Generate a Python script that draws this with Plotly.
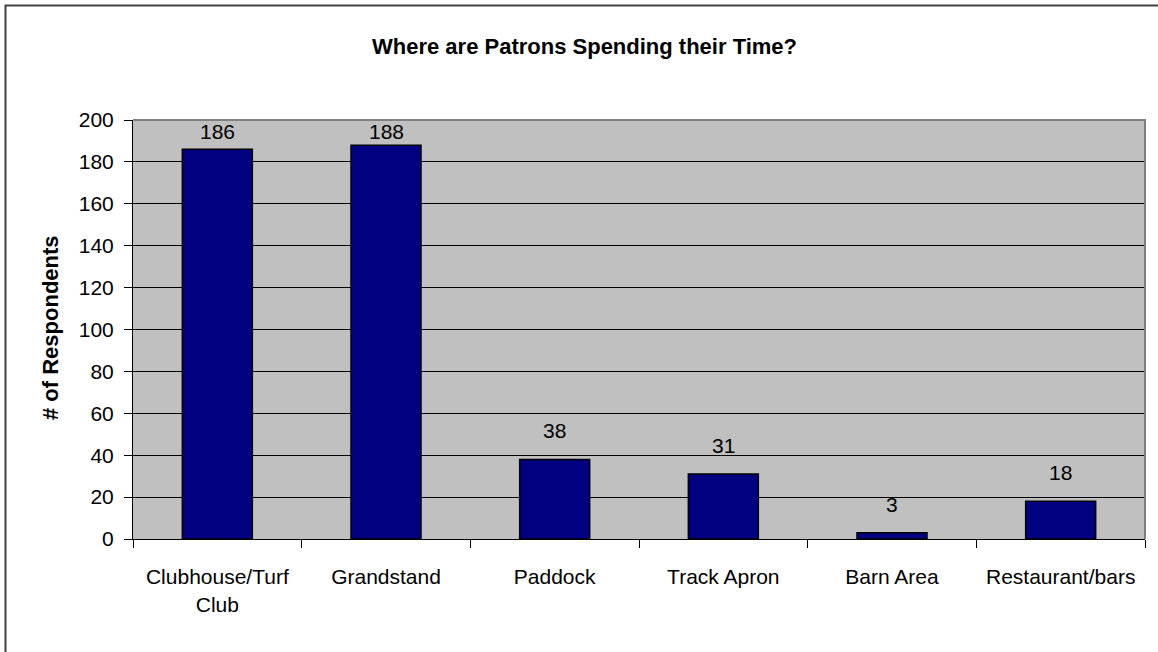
import plotly.graph_objects as go

categories = ["Clubhouse/Turf<br>Club", "Grandstand", "Paddock", "Track Apron", "Barn Area", "Restaurant/bars"]
respondents = [186, 188, 38, 31, 3, 18]
y_ticks = [0, 20, 40, 60, 80, 100, 120, 140, 160, 180, 200]

FONT = "Liberation Sans, Arial"
FS = 21

W, H = 1158, 652
L, R, T, B = 133, 13, 120, 113
pw, ph = W - L - R, H - T - B

fig = go.Figure()
fig.add_trace(go.Bar(
    x=categories, y=respondents,
    marker=dict(color="#000080", line=dict(color="#000000", width=1.5)),
    hoverinfo="x+y",
))

annotations = []
for c, v in zip(categories, respondents):
    if v > 180:
        annotations.append(dict(x=c, y=200, text=str(v), showarrow=False, yanchor="top",
                                yshift=2, font=dict(family=FONT, size=FS, color="#000")))
    else:
        annotations.append(dict(x=c, y=v, text=str(v), showarrow=False, yanchor="bottom",
                                yshift=15, font=dict(family=FONT, size=FS, color="#000")))

annotations.append(dict(xref="paper", yref="paper", x=(584 - L) / pw, y=1 + (T - 46) / ph,
                        text="<b>Where are Patrons Spending their Time?</b>", showarrow=False,
                        xanchor="center", yanchor="middle",
                        font=dict(family=FONT, size=22, color="#000")))
annotations.append(dict(xref="paper", yref="paper", x=(50 - L) / pw, y=(H - B - 328) / ph,
                        text="<b># of Respondents</b>", showarrow=False, textangle=-90,
                        xanchor="center", yanchor="middle",
                        font=dict(family=FONT, size=22, color="#000")))

shapes = [
    dict(type="rect", xref="paper", yref="paper",
         x0=(5.5 - L) / pw, x1=(W + 5 - L) / pw,
         y0=(H - B - (H + 5)) / ph, y1=1 + (T - 5.5) / ph,
         line=dict(color="#404040", width=2), fillcolor="rgba(0,0,0,0)", layer="below"),
    dict(type="path", xref="paper", yref="paper",
         path="M 0,1 L 1,1 L 1,0", line=dict(color="#808080", width=2), layer="above"),
]

fig.update_layout(
    width=W, height=H,
    margin=dict(l=L, r=R, t=T, b=B, pad=0, autoexpand=False),
    paper_bgcolor="white", plot_bgcolor="#C0C0C0",
    bargap=0.585, showlegend=False,
    annotations=annotations, shapes=shapes,
    font=dict(family=FONT, size=FS, color="#000"),
)
fig.update_xaxes(
    type="category", showline=True, linecolor="#000", linewidth=1,
    ticks="outside", tickson="boundaries", ticklen=8, tickcolor="#000", tickwidth=1,
    showgrid=False, tickangle=0, automargin=False,
    tickfont=dict(family=FONT, size=FS, color="#000"), ticklabelstandoff=19,
)
fig.update_yaxes(
    range=[0, 200], tickvals=y_ticks, showline=True, linecolor="#000", linewidth=1,
    ticks="outside", ticklen=8, tickcolor="#000", tickwidth=1,
    showgrid=True, gridcolor="#000", gridwidth=1, zeroline=False, automargin=False,
    tickfont=dict(family=FONT, size=FS, color="#000"), ticklabelstandoff=6,
)

fig.write_html("out.html")
